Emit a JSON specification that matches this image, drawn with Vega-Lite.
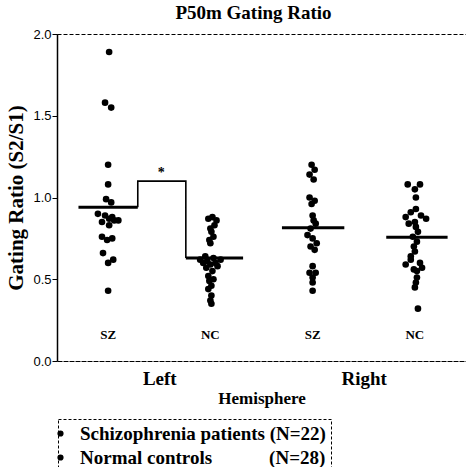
{
  "$schema": "https://vega.github.io/schema/vega-lite/v6.json",
  "autosize": {"type": "none"},
  "padding": {"left": 57, "top": 34, "right": 0, "bottom": 106},
  "width": 409,
  "height": 327,
  "background": "white",
  "title": {"text": "P50m Gating Ratio", "font": "Liberation Serif", "fontSize": 19, "fontWeight": "bold", "anchor": "middle", "dx": -8, "offset": 5, "color": "black"},
  "config": {
    "view": {"stroke": "black", "strokeDash": [4, 2], "strokeWidth": 1},
    "legend": {"strokeDash": [3, 2], "strokeWidth": 1}
  },
  "datasets": {
    "points": [
      {"x": 0.51, "y": 1.89, "group": "Schizophrenia patients (N=22)"},
      {"x": 0.47, "y": 1.58, "group": "Schizophrenia patients (N=22)"},
      {"x": 0.53, "y": 1.55, "group": "Schizophrenia patients (N=22)"},
      {"x": 0.50, "y": 1.20, "group": "Schizophrenia patients (N=22)"},
      {"x": 0.50, "y": 1.08, "group": "Schizophrenia patients (N=22)"},
      {"x": 0.48, "y": 0.99, "group": "Schizophrenia patients (N=22)"},
      {"x": 0.53, "y": 0.97, "group": "Schizophrenia patients (N=22)"},
      {"x": 0.40, "y": 0.90, "group": "Schizophrenia patients (N=22)"},
      {"x": 0.47, "y": 0.89, "group": "Schizophrenia patients (N=22)"},
      {"x": 0.54, "y": 0.88, "group": "Schizophrenia patients (N=22)"},
      {"x": 0.51, "y": 0.87, "group": "Schizophrenia patients (N=22)"},
      {"x": 0.56, "y": 0.86, "group": "Schizophrenia patients (N=22)"},
      {"x": 0.60, "y": 0.86, "group": "Schizophrenia patients (N=22)"},
      {"x": 0.44, "y": 0.85, "group": "Schizophrenia patients (N=22)"},
      {"x": 0.51, "y": 0.83, "group": "Schizophrenia patients (N=22)"},
      {"x": 0.44, "y": 0.76, "group": "Schizophrenia patients (N=22)"},
      {"x": 0.54, "y": 0.75, "group": "Schizophrenia patients (N=22)"},
      {"x": 0.49, "y": 0.74, "group": "Schizophrenia patients (N=22)"},
      {"x": 0.45, "y": 0.66, "group": "Schizophrenia patients (N=22)"},
      {"x": 0.55, "y": 0.62, "group": "Schizophrenia patients (N=22)"},
      {"x": 0.50, "y": 0.60, "group": "Schizophrenia patients (N=22)"},
      {"x": 0.50, "y": 0.43, "group": "Schizophrenia patients (N=22)"},
      {"x": 1.52, "y": 0.88, "group": "Normal controls (N=28)"},
      {"x": 1.48, "y": 0.87, "group": "Normal controls (N=28)"},
      {"x": 1.56, "y": 0.86, "group": "Normal controls (N=28)"},
      {"x": 1.54, "y": 0.83, "group": "Normal controls (N=28)"},
      {"x": 1.50, "y": 0.81, "group": "Normal controls (N=28)"},
      {"x": 1.51, "y": 0.79, "group": "Normal controls (N=28)"},
      {"x": 1.53, "y": 0.76, "group": "Normal controls (N=28)"},
      {"x": 1.49, "y": 0.74, "group": "Normal controls (N=28)"},
      {"x": 1.50, "y": 0.72, "group": "Normal controls (N=28)"},
      {"x": 1.45, "y": 0.64, "group": "Normal controls (N=28)"},
      {"x": 1.53, "y": 0.63, "group": "Normal controls (N=28)"},
      {"x": 1.40, "y": 0.62, "group": "Normal controls (N=28)"},
      {"x": 1.60, "y": 0.62, "group": "Normal controls (N=28)"},
      {"x": 1.47, "y": 0.61, "group": "Normal controls (N=28)"},
      {"x": 1.55, "y": 0.60, "group": "Normal controls (N=28)"},
      {"x": 1.43, "y": 0.60, "group": "Normal controls (N=28)"},
      {"x": 1.50, "y": 0.59, "group": "Normal controls (N=28)"},
      {"x": 1.57, "y": 0.58, "group": "Normal controls (N=28)"},
      {"x": 1.46, "y": 0.57, "group": "Normal controls (N=28)"},
      {"x": 1.52, "y": 0.55, "group": "Normal controls (N=28)"},
      {"x": 1.48, "y": 0.52, "group": "Normal controls (N=28)"},
      {"x": 1.53, "y": 0.50, "group": "Normal controls (N=28)"},
      {"x": 1.49, "y": 0.49, "group": "Normal controls (N=28)"},
      {"x": 1.51, "y": 0.46, "group": "Normal controls (N=28)"},
      {"x": 1.48, "y": 0.44, "group": "Normal controls (N=28)"},
      {"x": 1.51, "y": 0.40, "group": "Normal controls (N=28)"},
      {"x": 1.50, "y": 0.37, "group": "Normal controls (N=28)"},
      {"x": 1.51, "y": 0.35, "group": "Normal controls (N=28)"},
      {"x": 2.49, "y": 1.20, "group": "Schizophrenia patients (N=22)"},
      {"x": 2.52, "y": 1.17, "group": "Schizophrenia patients (N=22)"},
      {"x": 2.47, "y": 1.14, "group": "Schizophrenia patients (N=22)"},
      {"x": 2.51, "y": 1.11, "group": "Schizophrenia patients (N=22)"},
      {"x": 2.47, "y": 1.00, "group": "Schizophrenia patients (N=22)"},
      {"x": 2.52, "y": 0.98, "group": "Schizophrenia patients (N=22)"},
      {"x": 2.49, "y": 0.96, "group": "Schizophrenia patients (N=22)"},
      {"x": 2.50, "y": 0.89, "group": "Schizophrenia patients (N=22)"},
      {"x": 2.51, "y": 0.86, "group": "Schizophrenia patients (N=22)"},
      {"x": 2.53, "y": 0.84, "group": "Schizophrenia patients (N=22)"},
      {"x": 2.48, "y": 0.81, "group": "Schizophrenia patients (N=22)"},
      {"x": 2.45, "y": 0.77, "group": "Schizophrenia patients (N=22)"},
      {"x": 2.50, "y": 0.75, "group": "Schizophrenia patients (N=22)"},
      {"x": 2.54, "y": 0.72, "group": "Schizophrenia patients (N=22)"},
      {"x": 2.48, "y": 0.70, "group": "Schizophrenia patients (N=22)"},
      {"x": 2.52, "y": 0.68, "group": "Schizophrenia patients (N=22)"},
      {"x": 2.50, "y": 0.58, "group": "Schizophrenia patients (N=22)"},
      {"x": 2.47, "y": 0.54, "group": "Schizophrenia patients (N=22)"},
      {"x": 2.53, "y": 0.54, "group": "Schizophrenia patients (N=22)"},
      {"x": 2.50, "y": 0.51, "group": "Schizophrenia patients (N=22)"},
      {"x": 2.50, "y": 0.48, "group": "Schizophrenia patients (N=22)"},
      {"x": 2.50, "y": 0.43, "group": "Schizophrenia patients (N=22)"},
      {"x": 3.43, "y": 1.08, "group": "Normal controls (N=28)"},
      {"x": 3.55, "y": 1.08, "group": "Normal controls (N=28)"},
      {"x": 3.50, "y": 1.05, "group": "Normal controls (N=28)"},
      {"x": 3.51, "y": 1.00, "group": "Normal controls (N=28)"},
      {"x": 3.51, "y": 0.93, "group": "Normal controls (N=28)"},
      {"x": 3.46, "y": 0.91, "group": "Normal controls (N=28)"},
      {"x": 3.56, "y": 0.89, "group": "Normal controls (N=28)"},
      {"x": 3.41, "y": 0.88, "group": "Normal controls (N=28)"},
      {"x": 3.61, "y": 0.87, "group": "Normal controls (N=28)"},
      {"x": 3.50, "y": 0.85, "group": "Normal controls (N=28)"},
      {"x": 3.44, "y": 0.84, "group": "Normal controls (N=28)"},
      {"x": 3.51, "y": 0.82, "group": "Normal controls (N=28)"},
      {"x": 3.53, "y": 0.79, "group": "Normal controls (N=28)"},
      {"x": 3.48, "y": 0.76, "group": "Normal controls (N=28)"},
      {"x": 3.52, "y": 0.73, "group": "Normal controls (N=28)"},
      {"x": 3.49, "y": 0.70, "group": "Normal controls (N=28)"},
      {"x": 3.50, "y": 0.67, "group": "Normal controls (N=28)"},
      {"x": 3.46, "y": 0.64, "group": "Normal controls (N=28)"},
      {"x": 3.46, "y": 0.62, "group": "Normal controls (N=28)"},
      {"x": 3.55, "y": 0.60, "group": "Normal controls (N=28)"},
      {"x": 3.41, "y": 0.59, "group": "Normal controls (N=28)"},
      {"x": 3.57, "y": 0.57, "group": "Normal controls (N=28)"},
      {"x": 3.49, "y": 0.56, "group": "Normal controls (N=28)"},
      {"x": 3.52, "y": 0.55, "group": "Normal controls (N=28)"},
      {"x": 3.52, "y": 0.51, "group": "Normal controls (N=28)"},
      {"x": 3.51, "y": 0.48, "group": "Normal controls (N=28)"},
      {"x": 3.50, "y": 0.45, "group": "Normal controls (N=28)"},
      {"x": 3.53, "y": 0.32, "group": "Normal controls (N=28)"}
    ],
    "means": [
      {"x": 0.21, "x2": 0.79, "y": 0.94},
      {"x": 1.26, "x2": 1.82, "y": 0.63},
      {"x": 2.20, "x2": 2.81, "y": 0.815},
      {"x": 3.22, "x2": 3.82, "y": 0.757}
    ],
    "bracket": [
      {"o": 1, "x": 0.79, "y": 0.94},
      {"o": 2, "x": 0.79, "y": 1.10},
      {"o": 3, "x": 1.26, "y": 1.10},
      {"o": 4, "x": 1.26, "y": 0.63}
    ],
    "labels": [
      {"x": 0.5, "y": 0.16, "t": "SZ"},
      {"x": 1.5, "y": 0.16, "t": "NC"},
      {"x": 2.5, "y": 0.16, "t": "SZ"},
      {"x": 3.5, "y": 0.16, "t": "NC"}
    ],
    "stars": [
      {"x": 1.02, "y": 1.15, "t": "*"}
    ]
  },
  "encoding": {
    "x": {
      "field": "x", "type": "quantitative",
      "scale": {"domain": [0, 4], "nice": false, "zero": false},
      "axis": {
        "title": "Hemisphere", "values": [1, 3],
        "labelExpr": "datum.value == 1 ? 'Left' : 'Right'",
        "ticks": false, "grid": false,
        "domainColor": "black", "domainDash": [4, 2], "domainWidth": 1,
        "labelFont": "Liberation Serif", "labelFontWeight": "bold", "labelFontSize": 19, "labelColor": "black",
        "labelPadding": 8, "labelFlush": false,
        "titleFont": "Liberation Serif", "titleFontWeight": "bold", "titleFontSize": 17, "titleColor": "black",
        "titlePadding": 2
      }
    },
    "y": {
      "field": "y", "type": "quantitative",
      "scale": {"domain": [0, 2], "nice": false},
      "axis": {
        "title": "Gating Ratio (S2/S1)", "values": [0, 0.5, 1, 1.5, 2], "format": ".1f",
        "grid": false, "tickSize": 5, "tickColor": "black", "domainColor": "black", "domainWidth": 1.5,
        "labelFont": "Liberation Sans", "labelFontSize": 13, "labelColor": "black", "labelPadding": 1,
        "titleFont": "Liberation Serif", "titleFontWeight": "bold", "titleFontSize": 21, "titleColor": "black",
        "titlePadding": 6
      }
    }
  },
  "layer": [
    {
      "data": {"name": "points"},
      "mark": {"type": "circle", "opacity": 1, "size": 44},
      "encoding": {
        "color": {
          "field": "group", "type": "nominal",
          "scale": {"domain": ["Schizophrenia patients (N=22)", "Normal controls (N=28)"], "range": ["black", "black"]},
          "legend": {
            "title": null, "orient": "none", "legendX": 1, "legendY": 385,
            "padding": 5, "strokeColor": "black", "rowPadding": 4,
            "symbolType": "circle", "symbolSize": 22, "symbolFillColor": "black", "symbolStrokeColor": "black",
            "symbolOffset": -12, "labelOffset": 10,
            "labelFont": "Liberation Serif", "labelFontWeight": "bold", "labelFontSize": 19, "labelColor": "black", "labelLimit": 400,
            "labelExpr": "datum.label == 'Normal controls (N=28)' ? 'Normal controls\u00a0\u00a0\u00a0\u00a0\u00a0\u00a0\u00a0\u00a0\u00a0\u00a0\u00a0\u00a0(N=28)' : datum.label"
          }
        }
      }
    },
    {
      "data": {"name": "means"},
      "mark": {"type": "rule", "color": "black", "strokeWidth": 3},
      "encoding": {"x2": {"field": "x2"}}
    },
    {
      "data": {"name": "bracket"},
      "mark": {"type": "line", "color": "black", "strokeWidth": 1.6},
      "encoding": {"order": {"field": "o", "type": "quantitative"}}
    },
    {
      "data": {"name": "labels"},
      "mark": {"type": "text", "font": "Liberation Serif", "fontWeight": "bold", "fontSize": 13, "color": "black"},
      "encoding": {"text": {"field": "t"}}
    },
    {
      "data": {"name": "stars"},
      "mark": {"type": "text", "font": "Liberation Serif", "fontWeight": "bold", "fontSize": 14, "color": "black"},
      "encoding": {"text": {"field": "t"}}
    }
  ]
}
